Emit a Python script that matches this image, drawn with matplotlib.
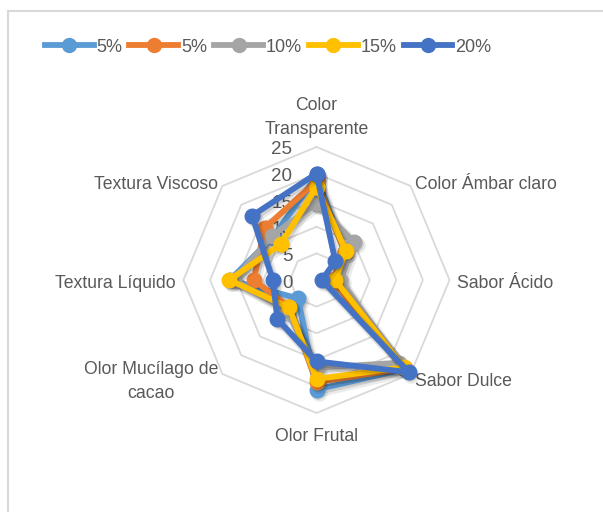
import numpy as np
import matplotlib
matplotlib.use("Agg")
import matplotlib.pyplot as plt
from matplotlib.transforms import offset_copy
from matplotlib.lines import Line2D

categories = ['Color\nTransparente', 'Color Ámbar claro', 'Sabor Ácido', 'Sabor Dulce',
              'Olor Frutal', 'Olor Mucílago de\ncacao', 'Textura Líquido', 'Textura Viscoso']
series_names = ['5%', '5%', '10%', '15%', '20%']
s5a = [19.5, 7.5, 3.0, 23.6, 20.6, 4.9, 16.3, 11.5]
s5b = [18.6, 7.5, 3.0, 23.5, 19.2, 7.2, 11.8, 13.8]
s10 = [14.4, 10.0, 4.5, 22.0, 16.5, 8.0, 15.5, 11.8]
s15 = [17.5, 7.8, 3.5, 23.2, 18.6, 7.3, 16.4, 9.5]
s20 = [20.0, 5.0, 1.0, 24.5, 15.3, 10.4, 8.2, 17.1]
series = [s5a, s5b, s10, s15, s20]
colors = ['#5B9BD5', '#ED7D31', '#A5A5A5', '#FFC000', '#4472C4']
rticks = [0, 5, 10, 15, 20, 25]

FONT = ['Liberation Sans', 'DejaVu Sans']
TXT = '#595959'

W, H = 603, 512
fig = plt.figure(figsize=(W / 100, H / 100), dpi=100)
fig.patch.set_facecolor('white')

# outer chart border (top and left visible)
fig.add_artist(Line2D([7.5 / W, 7.5 / W], [0, 1 - 11 / H], color='#D9D9D9', lw=1.5))
fig.add_artist(Line2D([7.5 / W, 1], [1 - 11 / H, 1 - 11 / H], color='#D9D9D9', lw=1.5))

cx, cy, R = 316.5, 280, 133
ax = fig.add_axes([(cx - R) / W, (H - cy - R) / H, 2 * R / W, 2 * R / H], projection='polar')
ax.set_theta_offset(np.pi / 2)
ax.set_theta_direction(-1)
ax.set_ylim(0, 25)
ax.set_xticks([])
ax.set_yticks([])
ax.grid(False)
ax.spines['polar'].set_visible(False)
ax.patch.set_alpha(0)

n = len(categories)
angles = np.arange(n) * 2 * np.pi / n
closed = np.r_[angles, angles[0]]

for r in rticks[1:]:
    ax.plot(closed, [r] * (n + 1), color='#D9D9D9', lw=1.3, zorder=1, clip_on=False)

# radial tick labels (under the series lines)
tr = offset_copy(ax.transData, fig=fig, x=-24, y=-3, units='dots')
for r in rticks:
    ax.text(0, r, str(r), transform=tr, ha='right', va='center',
            fontsize=13.5, color=TXT, family=FONT, zorder=2)

sh1 = offset_copy(ax.transData, fig=fig, x=2.5, y=-3, units='dots')
sh2 = offset_copy(ax.transData, fig=fig, x=1.5, y=-2, units='dots')
for i, (vals, col, name) in enumerate(zip(series, colors, series_names)):
    v = np.r_[vals, vals[0]]
    z = 3 + i
    ax.plot(closed, v, color='black', alpha=0.08, lw=7, marker='o', markersize=12,
            markeredgewidth=0, transform=sh1, zorder=z - 0.5, clip_on=False)
    ax.plot(closed, v, color='black', alpha=0.12, lw=5, marker='o', markersize=10.5,
            markeredgewidth=0, transform=sh2, zorder=z - 0.4, clip_on=False)
    ax.plot(closed, v, color=col, lw=4.2, marker='o', markersize=10.5,
            markeredgecolor=col, label=name, zorder=z, clip_on=False)

# category labels
lab = [
    (26.6, 'center', 'bottom', 0),
    (26.1, 'left', 'center', -3),
    (26.4, 'left', 'center', -3),
    (26.1, 'left', 'center', -3),
    (27.6, 'center', 'top', -1),
    (26.2, 'right', 'center', -3),
    (26.4, 'right', 'center', -3),
    (26.1, 'right', 'center', -3),
]
for ang, cat, (r, ha, va, dy) in zip(angles, categories, lab):
    t = offset_copy(ax.transData, fig=fig, x=0, y=dy, units='dots')
    ax.text(ang, r, cat, transform=t, ha=ha, va=va, multialignment='center',
            fontsize=12.7, color=TXT, family=FONT, linespacing=1.55)

handles = [Line2D([], [], color=c, lw=4.2, marker='o', markersize=10) for c in colors]
leg = fig.legend(handles, series_names, loc='center', bbox_to_anchor=(268 / W, 1 - 47 / H),
                 ncol=5, frameon=False, handlelength=2.7, handletextpad=0.15,
                 columnspacing=0.4, prop={'family': FONT, 'size': 13})
for t in leg.get_texts():
    t.set_color(TXT)

fig.savefig('out.png', dpi=100, facecolor='white')
